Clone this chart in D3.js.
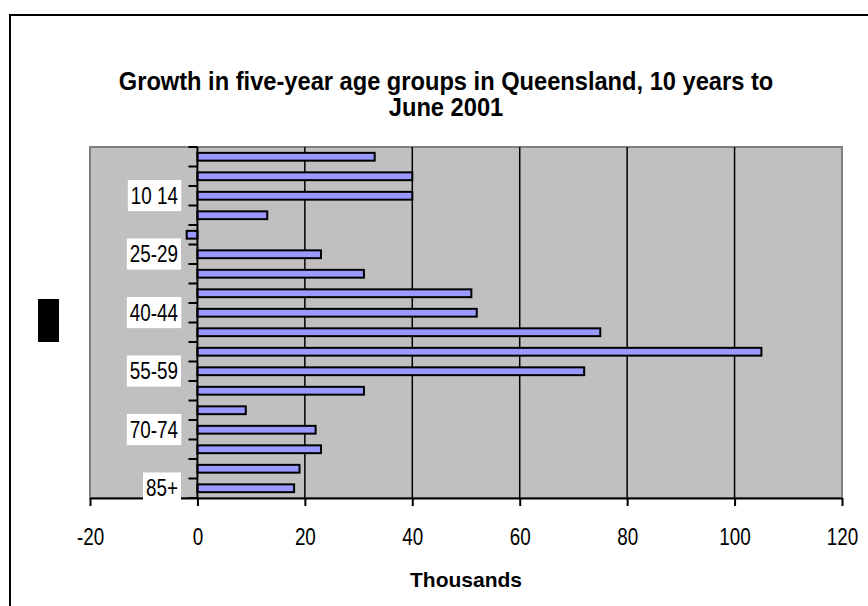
<!DOCTYPE html>
<html>
<head>
<meta charset="utf-8">
<script src="https://cdn.jsdelivr.net/npm/d3@7"></script>
<style>
  body { margin: 0; background: #fff; }
  svg { display: block; }
  text { font-family: "Liberation Sans", Arial, sans-serif; }
</style>
</head>
<body>
<div id="chart"></div>
<script>
// age groups, top to bottom (label for 10-14 really has no dash in the source)
const categories = ["0-4", "5-9", "10 14", "15-19", "20-24", "25-29", "30-34", "35-39", "40-44",
  "45-49", "50-54", "55-59", "60-64", "65-69", "70-74", "75-79", "80-84", "85+"];
// growth, thousands
const growth = [33, 40, 40, 13, -2, 23, 31, 51, 52, 75, 105, 72, 31, 9, 22, 23, 19, 18];
const xTicks = [-20, 0, 20, 40, 60, 80, 100, 120];
const titleLines = ["Growth in five-year age groups in Queensland, 10 years to", "June 2001"];
const xTitle = "Thousands";

const W = 868, H = 606;
const plot = { left: 90, right: 842, top: 147, bottom: 498 };
// no narrow font installed, so squeeze the regular one
const NARROW = 0.82;

const svg = d3.select("#chart").append("svg")
  .attr("width", W)
  .attr("height", H);

// outer chart border (runs off the right / bottom of the window)
svg.append("rect")
  .attr("x", 10).attr("y", 15)
  .attr("width", 880).attr("height", 620)
  .attr("fill", "#fff")
  .attr("stroke", "#000")
  .attr("stroke-width", 2);

// title
svg.append("g")
  .attr("transform", "translate(446,0) scale(0.91,1)")
  .append("text")
  .attr("y", 90)
  .attr("text-anchor", "middle")
  .style("font-size", "26px")
  .style("font-weight", "bold")
  .selectAll("tspan")
  .data(titleLines)
  .enter()
  .append("tspan")
  .attr("x", 0)
  .attr("dy", (d, i) => i === 0 ? 0 : 26)
  .text(d => d);

let x = d3.scaleLinear()
  .domain([-20, 120])
  .range([plot.left, plot.right]);

let y = d3.scaleBand()
  .domain(categories)
  .range([plot.top, plot.bottom]);

// grey plot area
svg.append("rect")
  .attr("x", plot.left)
  .attr("y", plot.top)
  .attr("width", plot.right - plot.left)
  .attr("height", plot.bottom - plot.top)
  .attr("fill", "#c0c0c0")
  .attr("stroke", "#808080")
  .attr("stroke-width", 2);

// vertical gridlines
svg.append("g")
  .selectAll("line")
  .data(xTicks.filter(d => d > 0 && d < 120))
  .enter()
  .append("line")
  .attr("x1", d => x(d)).attr("x2", d => x(d))
  .attr("y1", plot.top).attr("y2", plot.bottom)
  .attr("stroke", "#000")
  .attr("stroke-width", 1.5);

// bars, excel gap width 150%
let barH = y.step() / 2.5;
svg.append("g")
  .selectAll("rect")
  .data(categories)
  .enter()
  .append("rect")
  .attr("x", (d, i) => x(Math.min(0, growth[i])))
  .attr("y", d => y(d) + (y.bandwidth() - barH) / 2)
  .attr("width", (d, i) => Math.abs(x(growth[i]) - x(0)))
  .attr("height", barH)
  .attr("fill", "#9999ff")
  .attr("stroke", "#000")
  .attr("stroke-width", 2);

// x axis
let xAxis = svg.append("g")
  .attr("transform", "translate(0," + plot.bottom + ")")
  .call(d3.axisBottom(x).tickValues(xTicks).tickSize(8).tickSizeOuter(0).tickFormat(d => String(d)));
xAxis.select(".domain").attr("stroke", "#000").attr("stroke-width", 2);
xAxis.selectAll(".tick line").attr("stroke", "#000").attr("stroke-width", 2);
xAxis.selectAll(".tick text")
  .attr("y", 47)
  .attr("dy", null)
  .attr("transform", "scale(" + NARROW + ",1)")
  .attr("fill", "#000")
  .style("font-size", "23px");

// y axis at zero, ticks on category boundaries
svg.append("line")
  .attr("x1", x(0)).attr("x2", x(0))
  .attr("y1", plot.top).attr("y2", plot.bottom)
  .attr("stroke", "#000")
  .attr("stroke-width", 2);
let bounds = categories.map(c => y(c)).concat([y(categories[categories.length - 1]) + y.bandwidth()]);
svg.append("g")
  .selectAll("line")
  .data(bounds)
  .enter()
  .append("line")
  .attr("x1", x(0) - 9).attr("x2", x(0))
  .attr("y1", d => d).attr("y2", d => d)
  .attr("stroke", "#000")
  .attr("stroke-width", 2);

// category labels, every third one, on white boxes
let labelG = svg.append("g")
  .selectAll("g")
  .data(categories.filter((c, i) => i % 3 === 2))
  .enter()
  .append("g")
  .attr("transform", d => "translate(178," + (y(d) + y.bandwidth() / 2) + ")");
labelG.append("rect").attr("fill", "#fff");
labelG.append("text")
  .attr("y", 8)
  .attr("text-anchor", "end")
  .attr("transform", "scale(" + NARROW + ",1)")
  .style("font-size", "23px")
  .text(d => d);
labelG.each(function () {
  let g = d3.select(this);
  let bb = g.select("text").node().getBBox();
  g.select("rect")
    .attr("x", bb.x * NARROW - 3)
    .attr("y", bb.y - 3)
    .attr("width", bb.width * NARROW + 6)
    .attr("height", bb.height + 6);
});

// x axis title
svg.append("text")
  .attr("x", 466)
  .attr("y", 587)
  .attr("text-anchor", "middle")
  .style("font-size", "21px")
  .style("font-weight", "bold")
  .text(xTitle);

// value axis title box (comes out as a solid black block in the source)
svg.append("rect")
  .attr("x", 38).attr("y", 299)
  .attr("width", 21).attr("height", 43)
  .attr("fill", "#000");
</script>
</body>
</html>
